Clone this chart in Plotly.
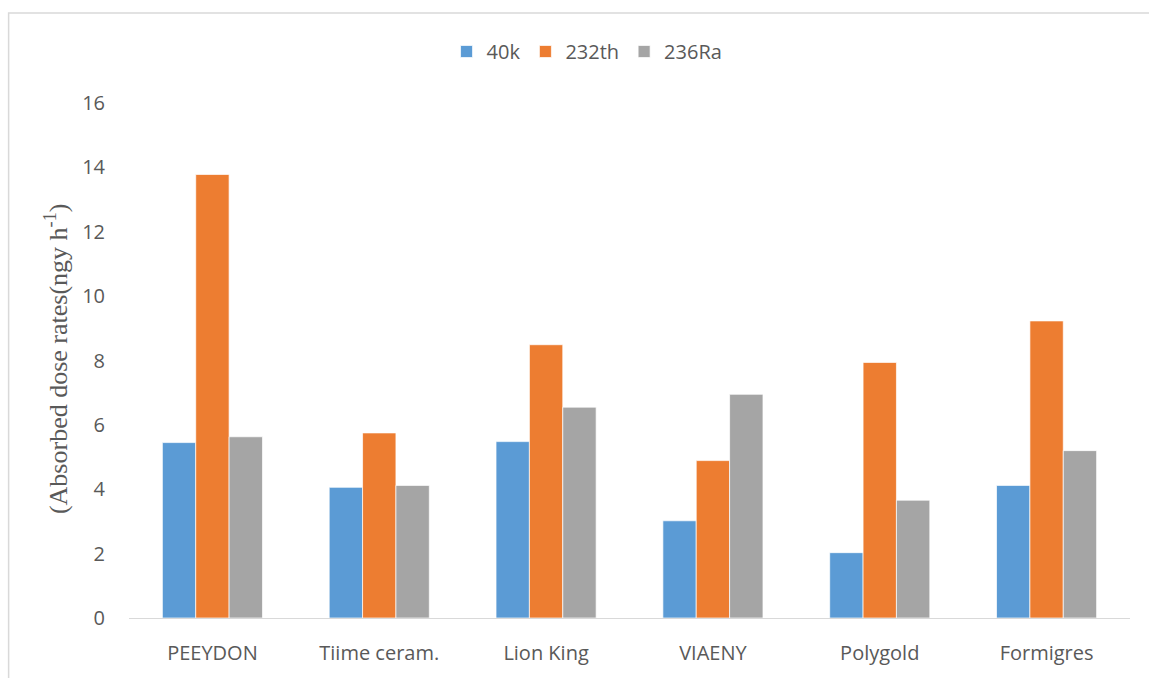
import plotly.graph_objects as go

categories = ["PEEYDON", "Tiime ceram.", "Lion King", "VIAENY", "Polygold", "Formigres"]
k40 = [5.45, 4.06, 5.48, 3.02, 2.03, 4.12]
th232 = [13.78, 5.75, 8.49, 4.89, 7.94, 9.23]
ra236 = [5.63, 4.12, 6.55, 6.95, 3.66, 5.20]
series_names = ["40k", "232th", "236Ra"]
colors = ["#5B9BD5", "#ED7D31", "#A5A5A5"]
y_ticks = [0, 2, 4, 6, 8, 10, 12, 14, 16]

W, H = 1149, 678
ml, mr, mt, mb = 128.5, 18.5, 103, 55
pw, ph = W - ml - mr, H - mt - mb

fig = go.Figure()
for name, vals, col in zip(series_names, [k40, th232, ra236], colors):
    fig.add_trace(go.Bar(x=categories, y=vals, name=name,
                         marker=dict(color=col, line=dict(color="white", width=0.7))))

tick_font = dict(family="Open Sans, sans-serif", size=20, color="#595959")
fig.update_layout(
    width=W, height=H,
    margin=dict(l=ml, r=mr, t=mt, b=mb, pad=0),
    autosize=False,
    plot_bgcolor="white", paper_bgcolor="white",
    barmode="group", bargap=0.4, bargroupgap=0,
    showlegend=True,
    legend=dict(orientation="h", x=(587 - ml) / pw, xanchor="center",
                y=(H - mb - 51) / ph, yanchor="middle",
                font=dict(family="Open Sans, sans-serif", size=20, color="#595959"),
                itemwidth=30, traceorder="normal", tracegroupgap=0),
    xaxis=dict(showgrid=False, showline=True, linecolor="#D9D9D9", linewidth=1,
               tickfont=tick_font, ticks="", ticklabelstandoff=17),
    yaxis=dict(range=[0, 16], tickvals=y_ticks, showgrid=False, zeroline=False,
               showline=False, tickfont=tick_font, ticks="", ticklabelstandoff=23),
    shapes=[dict(type="rect", xref="paper", yref="paper",
                 x0=(8 - ml) / pw, x1=1.2,
                 y0=-0.5, y1=(H - mb - 12) / ph,
                 line=dict(color="#D9D9D9", width=1.5), fillcolor="rgba(0,0,0,0)",
                 layer="below")],
    annotations=[dict(text="(Absorbed dose rates(ngy h<sup>-1</sup>)", textangle=-90,
                      xref="paper", yref="paper",
                      x=(56 - ml) / pw, y=(H - mb - 362) / ph,
                      xanchor="center", yanchor="middle", showarrow=False,
                      font=dict(family="Liberation Serif, Times New Roman, serif", size=26,
                                color="#595959"))],
)

fig.write_html("out.html")
